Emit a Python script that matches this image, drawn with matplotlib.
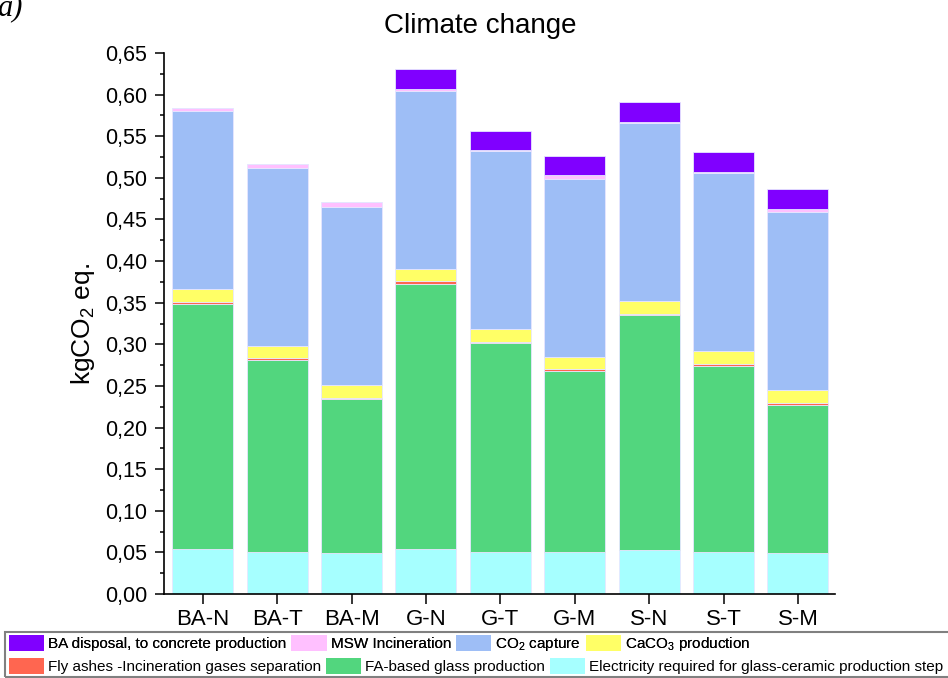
import numpy as np
import matplotlib.pyplot as plt
from matplotlib.patches import Patch, Rectangle
from matplotlib.ticker import FuncFormatter, MultipleLocator

plt.rcParams["font.family"] = ["Liberation Sans", "DejaVu Sans"]
plt.rcParams["mathtext.default"] = "regular"

# ------------------------------------------------------------------ #
#   Impact contributions per scenario (kg CO2 eq.), bottom to top
# ------------------------------------------------------------------ #
scenarios = ["BA-N", "BA-T", "BA-M", "G-N", "G-T", "G-M", "S-N", "S-T", "S-M"]

electricity = [0.054, 0.050, 0.049, 0.054, 0.050, 0.050, 0.053, 0.050, 0.049]
fa_glass = [0.295, 0.231, 0.185, 0.319, 0.251, 0.218, 0.282, 0.224, 0.178]
fly_ashes = [0.002, 0.002, 0.002, 0.003, 0.002, 0.002, 0.002, 0.002, 0.002]
caco3 = [0.015, 0.015, 0.015, 0.014, 0.015, 0.015, 0.015, 0.016, 0.016]
co2_capture = [0.214, 0.214, 0.214, 0.214, 0.214, 0.214, 0.214, 0.214, 0.214]
msw_incineration = [0.0045, 0.0049, 0.0056, 0.0024, 0.0016, 0.0040, 0.0017, 0.0012, 0.0039]
ba_disposal = [0.0, 0.0, 0.0, 0.024, 0.023, 0.0236, 0.0235, 0.0237, 0.0237]

layers = [
    ("Electricity required for glass-ceramic production step", electricity, "#A6FFFF"),
    ("FA-based glass production", fa_glass, "#52D67E"),
    ("Fly ashes -Incineration gases separation", fly_ashes, "#FF6650"),
    ("CaCO$_3$ production", caco3, "#FFFF66"),
    ("CO$_2$ capture", co2_capture, "#9EBEF6"),
    ("MSW Incineration", msw_incineration, "#FFC0FF"),
    ("BA disposal, to concrete production", ba_disposal, "#8000FF"),
]

fig = plt.figure(figsize=(9.48, 6.78), dpi=100)
ax = fig.add_axes([0.173, 0.1239, 0.708, 0.7979])

x = np.arange(len(scenarios))
bottom = np.zeros(len(scenarios))
handles = {}
for label, values, color in layers:
    vals = np.asarray(values)
    ax.bar(x, vals, width=0.82, bottom=bottom, color=color,
           edgecolor="#E6E6FF", linewidth=0.6)
    handles[label] = Patch(facecolor=color, edgecolor="none", label=label)
    bottom += vals

ax.set_xlim(-0.52, 8.5)
ax.set_ylim(0, 0.65)
ax.set_xticks(x)
ax.set_xticklabels(scenarios)
ax.yaxis.set_major_locator(MultipleLocator(0.05))
ax.yaxis.set_minor_locator(MultipleLocator(0.025))
ax.yaxis.set_major_formatter(FuncFormatter(lambda v, _: f"{v:.2f}".replace(".", ",")))

for side in ("top", "right"):
    ax.spines[side].set_visible(False)
for side in ("left", "bottom"):
    ax.spines[side].set_linewidth(1.2)

ax.tick_params(axis="y", which="major", direction="out", length=6.5, width=1.1,
               labelsize=15.5, pad=5.5)
ax.tick_params(axis="y", which="minor", direction="out", length=3.2, width=1.1)
ax.tick_params(axis="x", which="major", direction="out", length=7, width=1.1,
               labelsize=16, pad=4)

ax.set_ylabel("kgCO$_2$ eq.", fontsize=19, labelpad=6)

fig.text(480 / 948, 1 - 26 / 678, "Climate change", fontsize=20,
         ha="center", va="center")
fig.text(-0.003, 1 - 15 / 678, "a)", fontsize=22, style="italic",
         family=["Liberation Serif", "DejaVu Serif"], ha="left", va="baseline")

# two-row legend below the axes, each row flowing left to right
row1 = ["BA disposal, to concrete production", "MSW Incineration",
        "CO$_2$ capture", "CaCO$_3$ production"]
row2 = ["Fly ashes -Incineration gases separation", "FA-based glass production",
        "Electricity required for glass-ceramic production step"]
leg_kw = dict(frameon=False, fontsize=11, handlelength=2.3, handleheight=1.18,
              handletextpad=0.26, columnspacing=0.33, borderpad=0,
              borderaxespad=0, loc="center left")
leg1 = fig.legend(handles=[handles[k] for k in row1], ncol=len(row1),
                  bbox_to_anchor=(9 / 948, 1 - 644 / 678), **leg_kw)
leg2 = fig.legend(handles=[handles[k] for k in row2], ncol=len(row2),
                  bbox_to_anchor=(9 / 948, 1 - 666 / 678), **leg_kw)
fig.add_artist(leg1)

fig.patches.append(Rectangle((5 / 948, 1 - 677 / 678), 1.1, 45 / 678,
                             transform=fig.transFigure, fill=False,
                             edgecolor="#808080", linewidth=1.5))

fig.savefig("out.png", dpi=100)
